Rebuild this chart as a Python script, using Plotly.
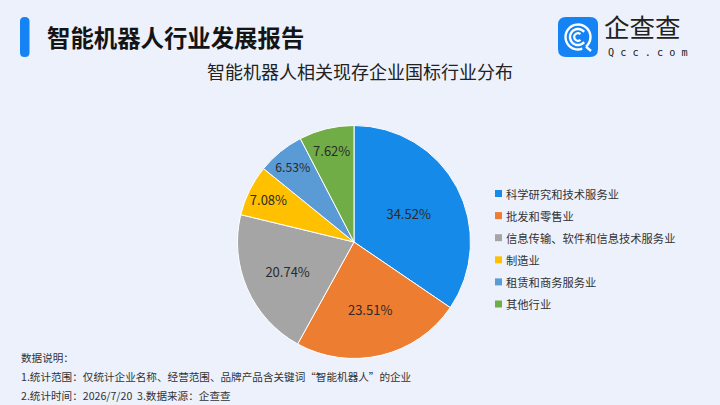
import math
import plotly.graph_objects as go

# ---- data ----
categories = ["科学研究和技术服务业", "批发和零售业", "信息传输、软件和信息技术服务业",
              "制造业", "租赁和商务服务业", "其他行业"]
shares = [34.52, 23.51, 20.74, 7.08, 6.53, 7.62]
colors = ["#168ae8", "#ed7d31", "#a5a5a5", "#ffc000", "#5b9bd5", "#70ad47"]

title_text = "智能机器人行业发展报告"
subtitle_text = "智能机器人相关现存企业国标行业分布"
notes = ["数据说明：",
         "1.统计范围：仅统计企业名称、经营范围、品牌产品含关键词“智能机器人”的企业",
         "2.统计时间：2026/7/20  3.数据来源：企查查"]

W, H = 720, 405
FONT = "Noto Sans CJK SC, Noto Sans, sans-serif"

fig = go.Figure()

# pie
cx, cy, r = 354, 242, 116.5
fig.add_trace(go.Pie(
    labels=categories, values=shares, sort=False, direction="clockwise", rotation=0,
    marker=dict(colors=colors, line=dict(color="#ffffff", width=1)),
    texttemplate="%{value:.2f}%", textposition="inside",
    insidetextorientation="horizontal",
    textfont=dict(family=FONT, size=13, color="#2a2a2a"),
    domain=dict(x=[(cx - r) / W, (cx + r) / W], y=[(H - cy - r) / H, (H - cy + r) / H]),
    showlegend=False, hoverinfo="label+percent",
))

shapes = []
annotations = []

# title bar (rounded)
def rrect(x0, y0, x1, y1, rad):
    return (f"M {x0+rad} {y0} L {x1-rad} {y0} Q {x1} {y0} {x1} {y0+rad} "
            f"L {x1} {y1-rad} Q {x1} {y1} {x1-rad} {y1} L {x0+rad} {y1} "
            f"Q {x0} {y1} {x0} {y1-rad} L {x0} {y0+rad} Q {x0} {y0} {x0+rad} {y0} Z")

shapes.append(dict(type="path", xref="x", yref="y", path=rrect(20, 17, 29.5, 57, 4.5),
                   fillcolor="#1683f5", line=dict(width=0), layer="above"))
annotations.append(dict(x=45, y=36.5, xref="x", yref="y", text=f"<b>{title_text}</b>",
                        showarrow=False, xanchor="left", yanchor="middle",
                        font=dict(family=FONT, size=23.4, color="#141414")))

# logo
shapes.append(dict(type="path", xref="x", yref="y", path=rrect(558, 17, 598, 57, 8),
                   fillcolor="#1683f5", line=dict(width=0), layer="above"))
lx, ly = 578, 37
def arc_path(rad, a0, a1, n=30):
    pts = []
    for i in range(n + 1):
        a = math.radians(a0 + (a1 - a0) * i / n)
        pts.append((lx + rad * math.cos(a), ly - rad * math.sin(a)))
    return "M " + " L ".join(f"{x:.2f} {y:.2f}" for x, y in pts)
shapes.append(dict(type="path", xref="x", yref="y", path=arc_path(12.5, -50, 290),
                   line=dict(color="white", width=2.4), layer="above"))
shapes.append(dict(type="path", xref="x", yref="y", path=arc_path(8, 40, 320),
                   line=dict(color="white", width=2.4), layer="above"))
shapes.append(dict(type="path", xref="x", yref="y", path=arc_path(3.8, 50, 310),
                   line=dict(color="white", width=2.2), layer="above"))
shapes.append(dict(type="path", xref="x", yref="y",
                   path=f"M {lx+8} {ly+9.6} L {lx+13} {ly+14}",
                   line=dict(color="white", width=2.4), layer="above"))
annotations.append(dict(x=603, y=45.5, xref="x", yref="y", text="企查查", showarrow=False,
                        xanchor="left", yanchor="bottom", borderpad=0,
                        font=dict(family=FONT, size=25.5, color="#222222")))
annotations.append(dict(x=607, y=45.5, xref="x", yref="y", text="Q c c . c o m", showarrow=False,
                        xanchor="left", yanchor="top", borderpad=0,
                        font=dict(family="DejaVu Sans Mono, monospace", size=10.2, color="#222222")))

# subtitle
annotations.append(dict(x=360, y=71, xref="x", yref="y", text=subtitle_text, showarrow=False,
                        xanchor="center", yanchor="middle",
                        font=dict(family=FONT, size=18, color="#222222")))

# legend
leg_x, leg_y0, leg_dy = 495, 193.5, 22.1
for i, (cat, col) in enumerate(zip(categories, colors)):
    yy = leg_y0 + i * leg_dy
    shapes.append(dict(type="rect", xref="x", yref="y", x0=leg_x, x1=leg_x + 7,
                       y0=yy - 3.5, y1=yy + 3.5, fillcolor=col, line=dict(width=0)))
    annotations.append(dict(x=leg_x + 9, y=yy, xref="x", yref="y", text=cat, showarrow=False,
                            xanchor="left", yanchor="middle",
                            font=dict(family=FONT, size=11.3, color="#333333")))

# notes
for i, t in enumerate(notes):
    annotations.append(dict(x=19, y=357.5 + i * 19.2, xref="x", yref="y", text=t, showarrow=False,
                            xanchor="left", yanchor="middle",
                            font=dict(family=FONT, size=10.6, color="#333333")))

fig.update_layout(
    width=W, height=H, margin=dict(l=0, r=0, t=0, b=0),
    paper_bgcolor="#ecf1fb", plot_bgcolor="rgba(0,0,0,0)",
    xaxis=dict(range=[0, W], visible=False, domain=[0, 1], fixedrange=True),
    yaxis=dict(range=[H, 0], visible=False, domain=[0, 1], fixedrange=True),
    shapes=shapes, annotations=annotations, showlegend=False,
)

fig.write_html("out.html", config={"displayModeBar": False},
               post_script="document.body.style.margin='0';document.body.style.background='#ecf1fb';")
